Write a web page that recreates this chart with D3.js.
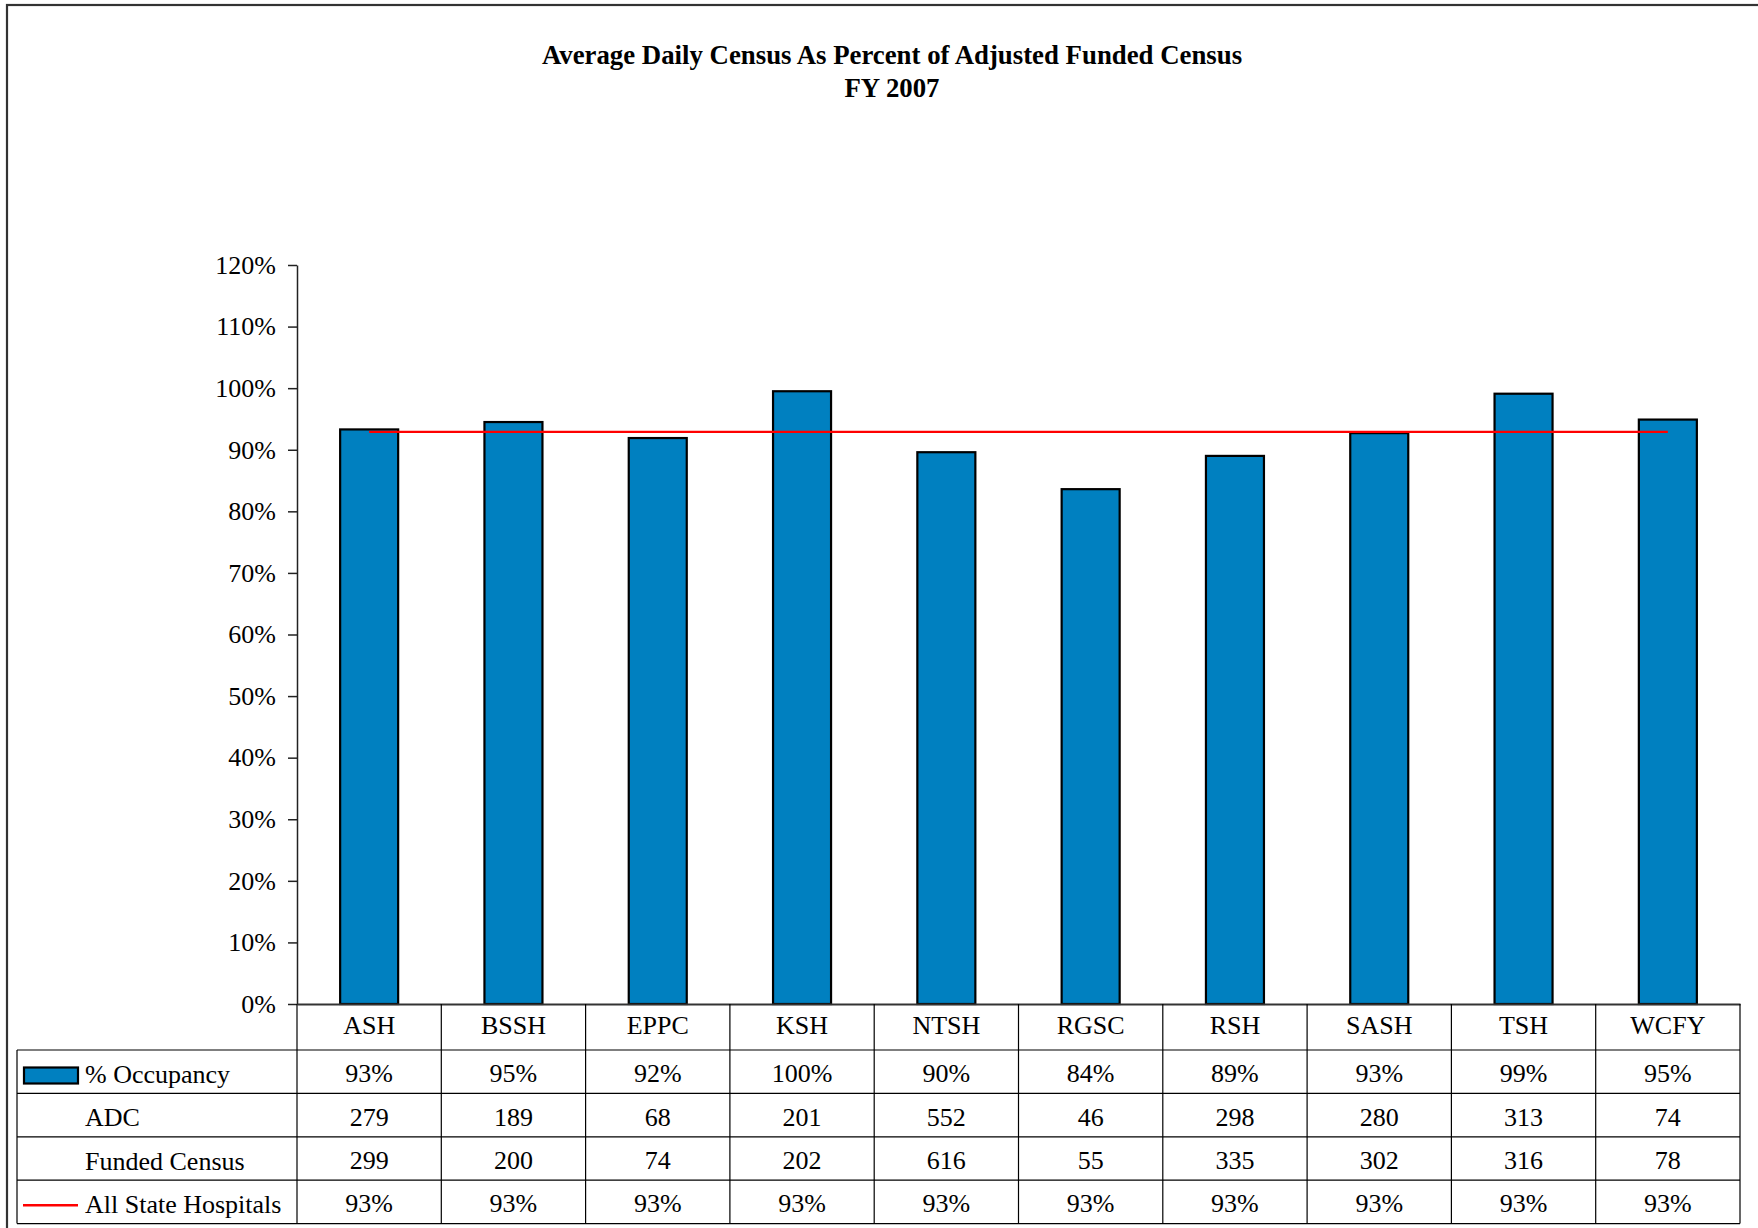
<!DOCTYPE html>
<html>
<head>
<meta charset="utf-8">
<script src="https://cdn.jsdelivr.net/npm/d3@7"></script>
<style>
  html, body { margin: 0; padding: 0; background: #fff; }
  svg { display: block; }
  text { font-family: "Liberation Serif", "Times New Roman", serif; fill: #000; }
</style>
</head>
<body>
<svg id="chart" width="1758" height="1228"></svg>
<script>
// ---- data ----
const titleLines = ["Average Daily Census As Percent of Adjusted Funded Census", "FY 2007"];
const categories = ["ASH", "BSSH", "EPPC", "KSH", "NTSH", "RGSC", "RSH", "SASH", "TSH", "WCFY"];
const occupancy = [93.3, 94.5, 91.9, 99.5, 89.6, 83.6, 89.0, 92.7, 99.1, 94.9];
const adc = [279, 189, 68, 201, 552, 46, 298, 280, 313, 74];
const fundedCensus = [299, 200, 74, 202, 616, 55, 335, 302, 316, 78];
const allStateHospitals = [92.9, 92.9, 92.9, 92.9, 92.9, 92.9, 92.9, 92.9, 92.9, 92.9];
const yTicks = [0, 10, 20, 30, 40, 50, 60, 70, 80, 90, 100, 110, 120];
const rowLabels = ["% Occupancy", "ADC", "Funded Census", "All State Hospitals"];

// ---- layout ----
const W = 1758, H = 1228;
const plotLeft = 297, plotRight = 1740, plotTop = 265, plotBottom = 1004;
const headerBottom = 1050;
const rowH = 43.4;
const tableLeft = 17;
const FS = 26;
const barColor = "#0080C0";
const lineColor = "#FF0000";

const svg = d3.select("#chart");

// outer frame
svg.append("rect")
  .attr("x", 7).attr("y", 5)
  .attr("width", W + 20).attr("height", H + 20)
  .attr("fill", "none").attr("stroke", "#333").attr("stroke-width", 2.2);

// title
svg.append("g").selectAll("text").data(titleLines).join("text")
  .attr("x", 892)
  .attr("y", (d, i) => i === 0 ? 63.5 : 97)
  .attr("text-anchor", "middle")
  .attr("font-weight", "bold")
  .attr("font-size", 26.8)
  .text(d => d);

// scales
const x = d3.scaleBand().domain(categories).range([plotLeft, plotRight]).padding(0);
const y = d3.scaleLinear().domain([0, 120]).range([plotBottom, plotTop]);
const barW = x.bandwidth() * 0.402;

// y axis
const yAxis = svg.append("g")
  .attr("transform", `translate(${plotLeft},0)`)
  .call(d3.axisLeft(y).tickValues(yTicks).tickFormat(d => d + "%")
    .tickSize(9).tickSizeOuter(0).tickPadding(12));
yAxis.selectAll("text").attr("font-size", FS).attr("font-family", "Liberation Serif").attr("fill", "#000");
yAxis.selectAll("line,path").attr("stroke", "#222").attr("stroke-width", 1.5);

// bars
svg.append("g").selectAll("rect").data(categories).join("rect")
  .attr("x", d => x(d) + (x.bandwidth() - barW) / 2)
  .attr("y", (d, i) => y(occupancy[i]))
  .attr("width", barW)
  .attr("height", (d, i) => y(0) - y(occupancy[i]))
  .attr("fill", barColor)
  .attr("stroke", "#000")
  .attr("stroke-width", 2.2);

// all-state line
const line = d3.line()
  .x((d, i) => x(categories[i]) + x.bandwidth() / 2)
  .y(d => y(d));
svg.append("path")
  .datum(allStateHospitals)
  .attr("d", line)
  .attr("fill", "none")
  .attr("stroke", lineColor)
  .attr("stroke-width", 2.4);

// x axis (category header row)
const xAxis = svg.append("g")
  .attr("transform", `translate(0,${plotBottom})`)
  .call(d3.axisBottom(x).tickSize(0).tickSizeOuter(0).tickPadding(12));
xAxis.selectAll("text").attr("font-size", FS).attr("font-family", "Liberation Serif").attr("fill", "#000");
xAxis.select(".domain").attr("stroke", "#333").attr("stroke-width", 2);

// ---- data table ----
const rowTops = rowLabels.map((d, i) => headerBottom + i * rowH);
const tableBottom = headerBottom + rowLabels.length * rowH;
const grid = svg.append("g").attr("stroke", "#000").attr("stroke-width", 1.2);

// horizontal lines
grid.selectAll("line.h").data(rowTops.concat([tableBottom])).join("line")
  .attr("class", "h")
  .attr("x1", tableLeft).attr("x2", plotRight)
  .attr("y1", d => d).attr("y2", d => d);

// vertical lines: column boundaries
const colEdges = categories.map(c => x(c)).concat([plotRight]);
grid.selectAll("line.v").data(colEdges).join("line")
  .attr("class", "v")
  .attr("x1", d => d).attr("x2", d => d)
  .attr("y1", plotBottom).attr("y2", tableBottom);
grid.append("line")
  .attr("x1", tableLeft).attr("x2", tableLeft)
  .attr("y1", headerBottom).attr("y2", tableBottom);

// row labels
svg.append("g").selectAll("text").data(rowLabels).join("text")
  .attr("x", 85)
  .attr("y", (d, i) => rowTops[i] + rowH / 2 + 11)
  .attr("font-size", FS)
  .text(d => d);

// legend keys
svg.append("rect")
  .attr("x", 24).attr("y", rowTops[0] + 17.5)
  .attr("width", 54).attr("height", 16)
  .attr("fill", barColor).attr("stroke", "#000").attr("stroke-width", 2.2);
svg.append("line")
  .attr("x1", 23).attr("x2", 78)
  .attr("y1", rowTops[3] + 25).attr("y2", rowTops[3] + 25)
  .attr("stroke", lineColor).attr("stroke-width", 2.4);

// cell values
const rows = [
  occupancy.map(v => Math.round(v) + "%"),
  adc.map(String),
  fundedCensus.map(String),
  allStateHospitals.map(v => Math.round(v) + "%")
];
rows.forEach((vals, r) => {
  svg.append("g").selectAll("text").data(vals).join("text")
    .attr("x", (d, i) => x(categories[i]) + x.bandwidth() / 2)
    .attr("y", rowTops[r] + rowH / 2 + 10.5)
    .attr("text-anchor", "middle")
    .attr("font-size", FS)
    .text(d => d);
});
</script>
</body>
</html>
